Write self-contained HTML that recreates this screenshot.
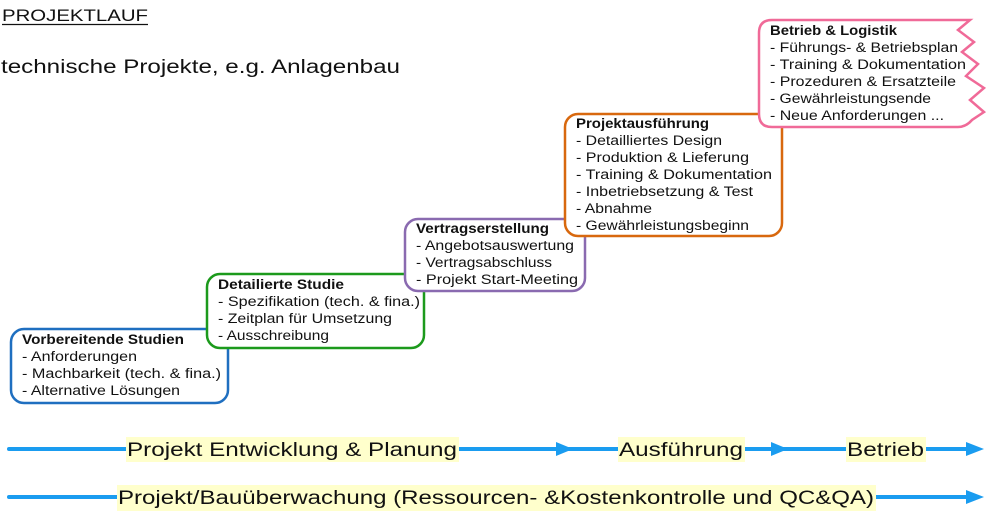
<!DOCTYPE html>
<html><head><meta charset="utf-8"><style>
html,body{margin:0;padding:0;background:#fff;}
svg{display:block;}
text{font-family:"Liberation Sans","DejaVu Sans",sans-serif;fill:#111;}
.b text{font-size:13.5px;}
.t{font-weight:bold;}
</style></head><body>
<svg width="998" height="517" viewBox="0 0 998 517" xmlns="http://www.w3.org/2000/svg">
<text x="2" y="21" font-size="17" textLength="146" lengthAdjust="spacingAndGlyphs">PROJEKTLAUF</text>
<line x1="2" y1="24.5" x2="148" y2="24.5" stroke="#111" stroke-width="1.2"/>
<text x="1" y="73" font-size="19" textLength="399" lengthAdjust="spacingAndGlyphs">technische Projekte, e.g. Anlagenbau</text>

<!-- blue -->
<rect x="11" y="329" width="217" height="74" rx="13" fill="#fff" stroke="#1f6fc0" stroke-width="2.5"/>
<g class="b">
<text x="22" y="344" class="t" textLength="162" lengthAdjust="spacingAndGlyphs">Vorbereitende Studien</text>
<text x="22" y="361" textLength="115" lengthAdjust="spacingAndGlyphs">- Anforderungen</text>
<text x="22" y="378" textLength="199" lengthAdjust="spacingAndGlyphs">- Machbarkeit (tech. &amp; fina.)</text>
<text x="22" y="395" textLength="158" lengthAdjust="spacingAndGlyphs">- Alternative Lösungen</text>
</g>
<!-- green -->
<rect x="207" y="274" width="217" height="74" rx="13" fill="#fff" stroke="#1c9a1c" stroke-width="2.5"/>
<g class="b">
<text x="218" y="289" class="t" textLength="126" lengthAdjust="spacingAndGlyphs">Detailierte Studie</text>
<text x="218" y="306" textLength="202" lengthAdjust="spacingAndGlyphs">- Spezifikation (tech. &amp; fina.)</text>
<text x="218" y="323" textLength="174" lengthAdjust="spacingAndGlyphs">- Zeitplan für Umsetzung</text>
<text x="218" y="340" textLength="111" lengthAdjust="spacingAndGlyphs">- Ausschreibung</text>
</g>
<!-- purple -->
<rect x="405" y="219" width="180" height="72" rx="13" fill="#fff" stroke="#8a6ab0" stroke-width="2.5"/>
<g class="b">
<text x="416" y="233" class="t" textLength="133" lengthAdjust="spacingAndGlyphs">Vertragserstellung</text>
<text x="416" y="250" textLength="158" lengthAdjust="spacingAndGlyphs">- Angebotsauswertung</text>
<text x="416" y="267" textLength="136" lengthAdjust="spacingAndGlyphs">- Vertragsabschluss</text>
<text x="416" y="284" textLength="162" lengthAdjust="spacingAndGlyphs">- Projekt Start-Meeting</text>
</g>
<!-- orange -->
<rect x="565" y="114" width="217" height="122" rx="13" fill="#fff" stroke="#d8680e" stroke-width="2.5"/>
<g class="b">
<text x="576" y="128" class="t" textLength="133" lengthAdjust="spacingAndGlyphs">Projektausführung</text>
<text x="576" y="145" textLength="146" lengthAdjust="spacingAndGlyphs">- Detailliertes Design</text>
<text x="576" y="162" textLength="173" lengthAdjust="spacingAndGlyphs">- Produktion &amp; Lieferung</text>
<text x="576" y="179" textLength="196" lengthAdjust="spacingAndGlyphs">- Training &amp; Dokumentation</text>
<text x="576" y="196" textLength="177" lengthAdjust="spacingAndGlyphs">- Inbetriebsetzung &amp; Test</text>
<text x="576" y="213" textLength="76" lengthAdjust="spacingAndGlyphs">- Abnahme</text>
<text x="576" y="230" textLength="173" lengthAdjust="spacingAndGlyphs">- Gewährleistungsbeginn</text>
</g>
<!-- pink -->
<path d="M772,20 L970,20 L958,30 L974,42 L962,52 L978,64 L966,76 L984,88 L970,100 L984,112 L972,120 Q966,127 958,127 L772,127 Q759,127 759,114 L759,33 Q759,20 772,20 Z" fill="#fff" stroke="#f06a98" stroke-width="2.5"/>
<g class="b">
<text x="770" y="35" class="t" textLength="127" lengthAdjust="spacingAndGlyphs">Betrieb &amp; Logistik</text>
<text x="770" y="52" textLength="188" lengthAdjust="spacingAndGlyphs">- Führungs- &amp; Betriebsplan</text>
<text x="770" y="69" textLength="196" lengthAdjust="spacingAndGlyphs">- Training &amp; Dokumentation</text>
<text x="770" y="86" textLength="186" lengthAdjust="spacingAndGlyphs">- Prozeduren &amp; Ersatzteile</text>
<text x="770" y="103" textLength="161" lengthAdjust="spacingAndGlyphs">- Gewährleistungsende</text>
<text x="770" y="120" textLength="174" lengthAdjust="spacingAndGlyphs">- Neue Anforderungen ...</text>
</g>

<!-- arrows -->
<g stroke="#1a9cf0" stroke-width="4" stroke-linecap="round">
<line x1="9" y1="449" x2="970" y2="449"/>
<line x1="9" y1="497" x2="970" y2="497"/>
</g>
<g fill="#1a9cf0">
<polygon points="556,442 573,449 556,456"/>
<polygon points="771,442 788,449 771,456"/>
<polygon points="966,442 984,449 966,456"/>
<polygon points="966,490 984,497 966,504"/>
</g>
<g fill="#ffffcc">
<rect x="126" y="437" width="333" height="25"/>
<rect x="618" y="437" width="127" height="25"/>
<rect x="846" y="437" width="80" height="25"/>
<rect x="117" y="485" width="759" height="26"/>
</g>
<text x="127" y="456" font-size="19" textLength="330" lengthAdjust="spacingAndGlyphs">Projekt Entwicklung &amp; Planung</text>
<text x="619" y="456" font-size="19" textLength="124" lengthAdjust="spacingAndGlyphs">Ausführung</text>
<text x="847" y="456" font-size="19" textLength="77" lengthAdjust="spacingAndGlyphs">Betrieb</text>
<text x="118" y="504" font-size="19" textLength="756" lengthAdjust="spacingAndGlyphs">Projekt/Bauüberwachung (Ressourcen- &amp;Kostenkontrolle und QC&amp;QA)</text>
</svg>
</body></html>
